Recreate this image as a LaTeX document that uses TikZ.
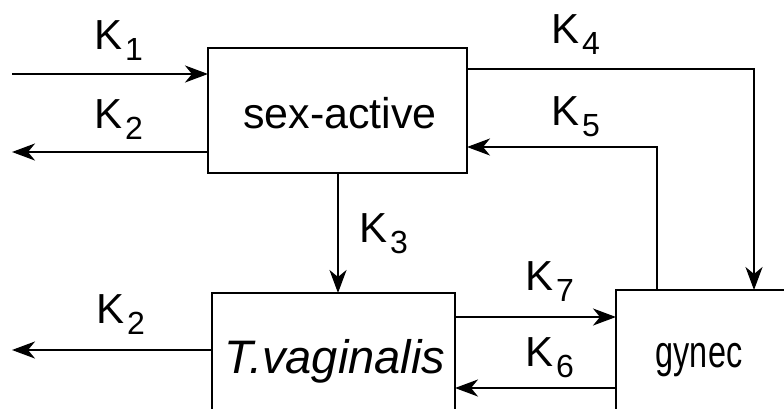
\documentclass[tikz,border=0pt]{standalone}
\usepackage{fontspec}
\setmainfont{Liberation Sans}
\usetikzlibrary{arrows.meta}
\newcommand{\klab}[1]{{\fontsize{42}{42}\selectfont K}\hspace{3pt}\raisebox{-11pt}{\fontsize{32}{32}\selectfont #1}}
\begin{document}
\begin{tikzpicture}[x=1pt,y=-1pt,
  line width=2.3pt,
  box/.style={draw, line width=2.3pt, rectangle, inner sep=0pt, outer sep=0pt},
  txt/.style={inner sep=0pt, anchor=base},
  flow/.style={-{Stealth[length=23pt,width=17pt,inset=7pt]}},
  lab/.style={inner sep=0pt, anchor=base west}]
\useasboundingbox (0,0) rectangle (784,408);
\clip (0,0) rectangle (784,408);

% boxes
\node[box, minimum width=259pt, minimum height=125pt] (sa) at (337.5,110.5) {};
\node[txt] (satext) at (340,128) {\fontsize{43}{43}\selectfont sex-active};

\node[box, minimum width=243pt, minimum height=140pt] (tv) at (333.5,363) {};
\node[txt] (tvtext) at (335,373) {\fontsize{47}{47}\selectfont\itshape T.vaginalis};

\node[box, minimum width=169pt, minimum height=150pt] (gy) at (700.5,365) {};
\node[txt] (gytext) at (699,367) {\scalebox{0.72}[1]{\fontsize{45}{45}\selectfont gynec}};

% helper coordinates
\coordinate (in1) at (12,74);
\coordinate (out1) at (12,152);
\coordinate (out2) at (12,350);
\coordinate (k3x) at (338,0);
\coordinate (k7y) at (0,317);
\coordinate (k6y) at (0,388);
\coordinate (k4y) at (0,69);
\coordinate (k4x) at (754,0);
\coordinate (k5y) at (0,147);
\coordinate (k5x) at (657,0);

% connectors
\draw[flow] (in1) -- (sa.west |- in1);
\draw[flow] (sa.west |- out1) -- (out1);
\draw[flow] (sa.south -| k3x) -- (tv.north -| k3x);
\draw[flow] (tv.west |- out2) -- (out2);
\draw[flow] (tv.east |- k7y) -- (gy.west |- k7y);
\draw[flow] (gy.west |- k6y) -- (tv.east |- k6y);
\draw[flow] (sa.east |- k4y) -| (gy.north -| k4x);
\draw[flow] (gy.north -| k5x) |- (sa.east |- k5y);

% labels
\node[lab] (l1) at (93,49) {\klab{1}};
\node[lab] (l2) at (93,128) {\klab{2}};
\node[lab] (l3) at (358,242) {\klab{3}};
\node[lab] (l4) at (550,43) {\klab{4}};
\node[lab] (l5) at (550,125) {\klab{5}};
\node[lab] (l2b) at (95,323) {\klab{2}};
\node[lab] (l7) at (524,290) {\klab{7}};
\node[lab] (l6) at (524,366) {\klab{6}};
\end{tikzpicture}
\end{document}
